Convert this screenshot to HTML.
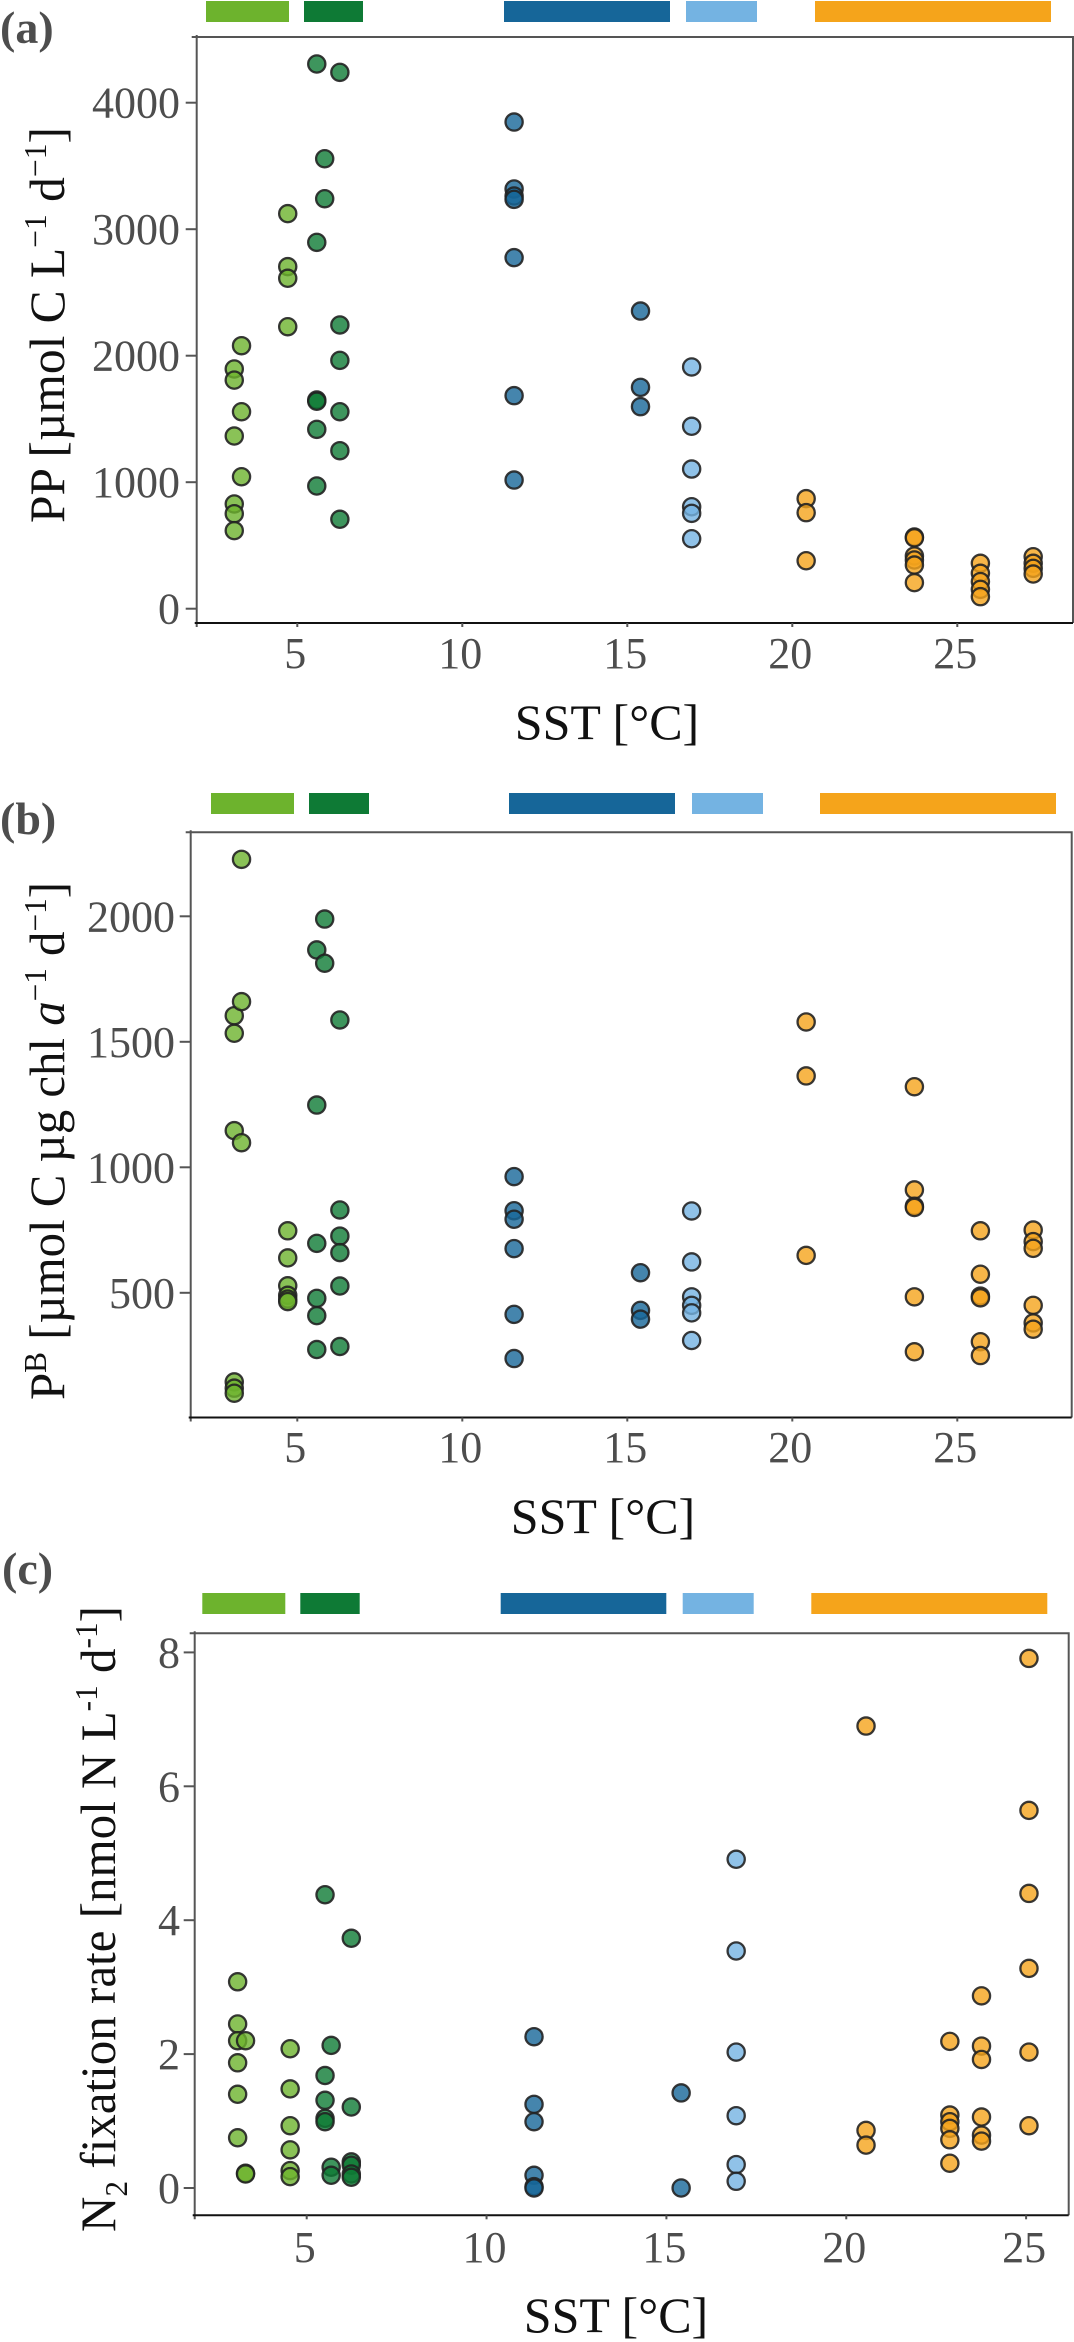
<!DOCTYPE html>
<html><head><meta charset="utf-8"><style>
html,body{margin:0;padding:0;background:#fff;}
svg{display:block;font-family:"Liberation Serif",serif;}
</style></head><body>
<svg id="fig" width="1074" height="2342" viewBox="0 0 1074 2342" xmlns="http://www.w3.org/2000/svg">
<text x="0" y="43" font-size="46" font-weight="bold" fill="#4d4d4d">(a)</text>
<text x="0" y="834" font-size="46" font-weight="bold" fill="#4d4d4d">(b)</text>
<text x="2" y="1584" font-size="46" font-weight="bold" fill="#4d4d4d">(c)</text>

<text transform="translate(64,523) rotate(-90)" font-size="50" fill="#111" textLength="396" lengthAdjust="spacingAndGlyphs">PP  [µmol C L<tspan dy="-18" font-size="32">−1</tspan><tspan dy="18"> d</tspan><tspan dy="-18" font-size="32">−1</tspan><tspan dy="18">]</tspan></text>
<text transform="translate(64,1400) rotate(-90)" font-size="50" fill="#111" textLength="518" lengthAdjust="spacingAndGlyphs">P<tspan dy="-18" font-size="32">B</tspan><tspan dy="18"> [µmol C µg chl </tspan><tspan font-style="italic">a</tspan><tspan dy="-18" font-size="32">−1</tspan><tspan dy="18"> d</tspan><tspan dy="-18" font-size="32">−1</tspan><tspan dy="18">]</tspan></text>
<text transform="translate(115,2232) rotate(-90)" font-size="50" fill="#111" textLength="626" lengthAdjust="spacingAndGlyphs">N<tspan dy="12" font-size="32">2</tspan><tspan dy="-12"> fixation rate [nmol N L</tspan><tspan dy="-18" font-size="32">-1</tspan><tspan dy="18"> d</tspan><tspan dy="-18" font-size="32">-1</tspan><tspan dy="18">]</tspan></text>

<text x="607" y="739" font-size="50" fill="#111" text-anchor="middle">SST [°C]</text>
<text x="603" y="1533" font-size="50" fill="#111" text-anchor="middle">SST [°C]</text>
<text x="616" y="2332" font-size="50" fill="#111" text-anchor="middle">SST [°C]</text>
</svg>
<script>
// group: 0 light green, 1 dark green, 2 dark blue, 3 light blue, 4 orange
const ppSST = [3.09,3.09,3.09,3.09,3.09,3.09, 3.31,3.31,3.31, 4.71,4.71,4.71,4.71, 5.59,5.59,5.59,5.59,5.59,5.59, 5.83,5.83, 6.29,6.29,6.29,6.29,6.29,6.29, 11.57,11.57,11.57,11.57,11.57,11.57,11.57, 15.4,15.4,15.4, 16.95,16.95,16.95,16.95,16.95,16.95, 20.42,20.42,20.42, 23.7,23.7,23.7,23.7,23.7,23.7, 25.7,25.7,25.7,25.7,25.7, 27.3,27.3,27.3,27.3];
const ppValues = [1895,1807,1365,828,751,617, 2079,1557,1043, 3123,2704,2612,2229, 4306,2896,1650,1640,1418,970, 3557,3241, 4240,2243,1963,1557,1249,707, 3847,3318,3262,3236,2775,1684,1017, 2353,1750,1597, 1911,1442,1104,806,754,553, 870,759,379, 567,560,417,385,345,206, 359,280,214,153,95, 411,359,319,274];
const ppGroup = [0,0,0,0,0,0, 0,0,0, 0,0,0,0, 1,1,1,1,1,1, 1,1, 1,1,1,1,1,1, 2,2,2,2,2,2,2, 2,2,2, 3,3,3,3,3,3, 4,4,4, 4,4,4,4,4,4, 4,4,4,4,4, 4,4,4,4];

const pbSST = [3.09,3.09,3.09,3.09,3.09,3.09, 3.31,3.31,3.31, 4.71,4.71,4.71,4.71,4.71,4.71, 5.59,5.59,5.59,5.59,5.59,5.59, 5.83,5.83, 6.29,6.29,6.29,6.29,6.29,6.29, 11.57,11.57,11.57,11.57,11.57,11.57, 15.4,15.4,15.4, 16.95,16.95,16.95,16.95,16.95,16.95, 20.42,20.42,20.42, 23.7,23.7,23.7,23.7,23.7,23.7, 25.7,25.7,25.7,25.7,25.7,25.7, 27.3,27.3,27.3,27.3,27.3,27.3];
const pbValues = [1604,1534,1146,145,120,100, 2227,1660,1098, 747,639,528,490,475,465, 1866,1248,697,478,409,274, 1989,1813, 1587,830,726,660,527,286, 963,827,793,676,414,238, 580,430,395, 826,623,484,450,420,310, 1579,1364,649, 1321,910,845,840,484,265, 747,574,487,480,305,250, 750,704,677,450,380,355];
const pbGroup = [0,0,0,0,0,0, 0,0,0, 0,0,0,0,0,0, 1,1,1,1,1,1, 1,1, 1,1,1,1,1,1, 2,2,2,2,2,2, 2,2,2, 3,3,3,3,3,3, 4,4,4, 4,4,4,4,4,4, 4,4,4,4,4,4, 4,4,4,4,4,4];

const n2SST = [3.08,3.08,3.08,3.08,3.08,3.08, 3.30,3.30,3.30, 4.54,4.54,4.54,4.54,4.54,4.54, 5.51,5.51,5.51,5.51,5.51, 5.68,5.68,5.68, 6.24,6.24,6.24,6.24,6.24,6.24, 11.32,11.32,11.32,11.32,11.32,11.32, 15.41,15.41, 16.94,16.94,16.94,16.94,16.94,16.94, 20.55,20.55,20.55, 22.88,22.88,22.88,22.88,22.88,22.88, 23.76,23.76,23.76,23.76,23.76,23.76, 25.08,25.08,25.08,25.08,25.08,25.08];
const n2Values = [3.08,2.45,2.20,1.87,1.40,0.75, 2.20,0.22,0.21, 2.08,1.48,0.93,0.57,0.26,0.17, 4.38,1.68,1.31,1.04,0.99, 2.13,0.31,0.19, 3.73,1.21,0.39,0.34,0.21,0.16, 2.26,1.25,0.99,0.19,0.02,0.0, 1.42,0.0, 4.91,3.54,2.03,1.08,0.35,0.10, 6.90,0.86,0.64, 2.19,1.09,0.99,0.89,0.72,0.37, 2.87,2.12,1.92,1.06,0.79,0.70, 7.91,5.64,4.40,3.28,2.03,0.93];
const n2Group = [0,0,0,0,0,0, 0,0,0, 0,0,0,0,0,0, 1,1,1,1,1, 1,1,1, 1,1,1,1,1,1, 2,2,2,2,2,2, 2,2, 3,3,3,3,3,3, 4,4,4, 4,4,4,4,4,4, 4,4,4,4,4,4, 4,4,4,4,4,4];

const xTicks = [5,10,15,20,25];
const ppTicks = [0,1000,2000,3000,4000];
const pbTicks = [500,1000,1500,2000];
const n2Ticks = [0,2,4,6,8];
const groupNames = ['light-green','dark-green','dark-blue','light-blue','orange'];

const colors = ['#6db32d','#0e7a35','#166699','#74b3e2','#f5a41b'];
const NS = 'http://www.w3.org/2000/svg';
const svg = document.getElementById('fig');
function mk(tag, attrs){ const e=document.createElementNS(NS,tag); for(const k in attrs) e.setAttribute(k,attrs[k]); svg.appendChild(e); return e; }

const panels = [
 {id:'a', sst:ppSST, vals:ppValues, grp:ppGroup, yTicks:ppTicks,
  x:t=>297.3+(t-5)*33, y:v=>608.7-0.1265*v, L:196.7, T:37, R:1073, B:623,
  barY:1, bars:[[206,289],[304,363],[504,670],[686,757],[815,1051]], xlabY:668, ylabR:180},
 {id:'b', sst:pbSST, vals:pbValues, grp:pbGroup, yTicks:pbTicks,
  x:t=>297.3+(t-5)*33, y:v=>1167.3-(v-1000)*0.251, L:190.7, T:832.3, R:1071.7, B:1417.5,
  barY:793, bars:[[211,294],[309,369],[509,675],[692,763],[820,1056]], xlabY:1462, ylabR:175},
 {id:'c', sst:n2SST, vals:n2Values, grp:n2Group, yTicks:n2Ticks,
  x:t=>306.7+(t-5)*35.97, y:v=>2188-66.95*v, L:194.7, T:1633.3, R:1068.7, B:2215.3,
  barY:1593, bars:[[202.3,285.3],[300.3,359.7],[500.7,666.3],[682.7,753.7],[811.3,1047.3]], xlabY:2262, ylabR:180}
];

panels.forEach(p=>{
  p.bars.forEach((b,i)=>{
    const r = mk('rect',{x:b[0],y:p.barY,width:b[1]-b[0],height:21,fill:colors[i]});
    
    
  });
  const frame = mk('path',{d:`M${p.L-5},${p.T} H${p.R} V${p.B}`,fill:'none',stroke:'#555','stroke-width':2});
  
  
  const yax = mk('line',{x1:p.L,y1:p.T-2,x2:p.L,y2:p.B+4,stroke:'#555','stroke-width':2});
  
  
  const xax = mk('line',{x1:p.L-2,y1:p.B,x2:p.R,y2:p.B,stroke:'#111','stroke-width':2});
  
  
  p.yTicks.forEach(v=>{
    const yy=p.y(v);
    const tk = mk('line',{x1:p.L-11,y1:yy,x2:p.L,y2:yy,stroke:'#555','stroke-width':2});
    
    
    const tl = mk('text',{x:p.ylabR,y:yy+15,'font-size':44,fill:'#4d4d4d','text-anchor':'end'});
    tl.textContent = String(v);
    
    
  });
  xTicks.forEach(t=>{
    const xx=p.x(t);
    const tk = mk('line',{x1:xx,y1:p.B,x2:xx,y2:p.B+4,stroke:'#555','stroke-width':2});
    
    
    const tl = mk('text',{x:xx-2,y:p.xlabY,'font-size':44,fill:'#4d4d4d','text-anchor':'middle'});
    tl.textContent = String(t);
    
    
  });
  p.sst.forEach((t,i)=>{
    const c = mk('circle',{cx:p.x(t),cy:p.y(p.vals[i]),r:8.6,fill:colors[p.grp[i]],'fill-opacity':0.8,stroke:'#222','stroke-opacity':0.9,'stroke-width':2.3});
    
    
  });
});
</script>
</body></html>
